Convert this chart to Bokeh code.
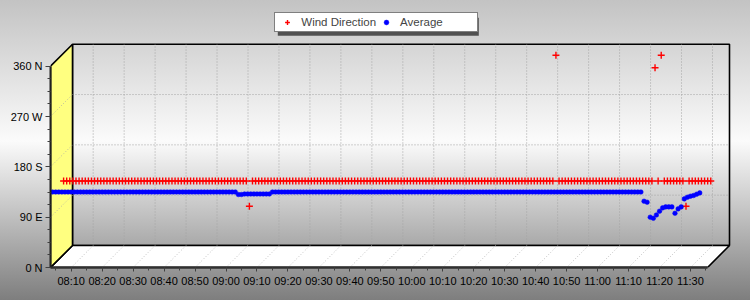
from bokeh.plotting import figure
from bokeh.models import (Range1d, LinearAxis, FixedTicker, Legend, LegendItem,
                          BoxAnnotation)
from bokeh.embed import file_html
from bokeh.resources import INLINE

# ---------------- data ----------------
start_minute = 8 * 60 + 4          # first reading 08:04, one reading per minute
wind_direction = ([135] * 60 + [90] + [135] * 98 + [360] + [135] * 31 +
                  [337.5] + [135] + [360] + [135] * 7 + [90] + [135] * 8)
average = ([135] * 60 + [130.5] * 2 + [131.5] * 9 + [135] * 120 +
           [118.6, 116.8, 90, 88, 94, 100.7, 106.6, 108.4, 108.4, 108.4,
            97, 104.8, 108.4, 122.7, 125.7, 127.5, 128.7, 131.1, 133.4])
minutes = [start_minute + i for i in range(len(average))]

x_tick_values = [490, 500, 510, 520, 530, 540, 550, 560, 570, 580, 590,
                 600, 610, 620, 630, 640, 650, 660, 670, 680, 690]
x_tick_labels = ["08:10", "08:20", "08:30", "08:40", "08:50", "09:00", "09:10",
                 "09:20", "09:30", "09:40", "09:50", "10:00", "10:10", "10:20",
                 "10:30", "10:40", "10:50", "11:00", "11:10", "11:20", "11:30"]
x_minor_values = [485, 495, 505, 515, 525, 535, 545, 555, 565, 575, 585, 595,
                  605, 615, 625, 635, 645, 655, 665, 675, 685, 695]
y_tick_values = [0, 90, 180, 270, 360]
y_tick_labels = ["0 N", "90 E", "180 S", "270 W", "360 N"]
y_minor_values = [22.5, 45, 67.5, 112.5, 135, 157.5, 202.5, 225, 247.5,
                  292.5, 315, 337.5]

# ---------------- layout constants ----------------
PX_PER_MIN = 3.0965
PX_PER_DEG = 201.3 / 360
FRAME_W, FRAME_H = 700, 267
X0 = 484 - 2.1 / PX_PER_MIN              # front-left edge of the box
X1 = X0 + FRAME_W / PX_PER_MIN
XR = X0 + 657 / PX_PER_MIN               # front-right edge of the box
Y1 = FRAME_H / PX_PER_DEG
DEPTH = 22
DT = DEPTH / PX_PER_MIN
DV = DEPTH / PX_PER_DEG

p = figure(width=750, height=300, output_backend="svg", toolbar_location=None,
           x_range=Range1d(X0, X1), y_range=Range1d(0, Y1),
           x_axis_type=None, y_axis_type=None, title=None,
           min_border_left=50, min_border_right=0, min_border_top=0,
           min_border_bottom=300 - FRAME_H)
p.outline_line_color = None
p.background_fill_alpha = 0
p.border_fill_alpha = 0
p.styles = {"background": "linear-gradient(180deg, #c3c3c3 0%, #fbfbfb 47%, #7e7e7e 100%)"}

p.extra_x_ranges = {"mid": Range1d(X0 - DT / 2, X1 - DT / 2),
                    "back": Range1d(X0 - DT, X1 - DT)}
p.extra_y_ranges = {"mid": Range1d(-DV / 2, Y1 - DV / 2),
                    "back": Range1d(-DV, Y1 - DV)}

grid_col = "#a4a4a4"
# back wall
p.quad(left=X0, right=XR, bottom=0, top=360, x_range_name="back", y_range_name="back",
       fill_color=None, line_color="black", line_width=1.6)
p.multi_line(xs=[[t, t] for t in x_tick_values], ys=[[0, 360] for _ in x_tick_values],
             x_range_name="back", y_range_name="back",
             line_color=grid_col, line_dash="1 2", line_width=1)
p.multi_line(xs=[[X0, XR] for _ in (90, 180, 270)], ys=[[v, v] for v in (90, 180, 270)],
             x_range_name="back", y_range_name="back",
             line_color=grid_col, line_dash="1 2", line_width=1)
# floor
p.patch(x=[X0, XR, XR + DT, X0 + DT], y=[0, 0, DV, DV], fill_color="white",
        line_color="black", line_width=1.6)
p.multi_line(xs=[[t, t + DT] for t in x_tick_values], ys=[[0, DV] for _ in x_tick_values],
             line_color="#c0c0c0", line_dash="1 2", line_width=1)
# left wall
p.patch(x=[X0, X0, X0 + DT, X0 + DT], y=[0, 360, 360 + DV, DV], fill_color="#ffff80",
        line_color="black", line_width=1.6)
p.multi_line(xs=[[X0, X0 + DT] for _ in (90, 180, 270)],
             ys=[[v, v + DV] for v in (90, 180, 270)],
             line_color="#b8b8a0", line_dash="1 2", line_width=1)

# series
r_wind = p.scatter(minutes, wind_direction, marker="cross", size=7, line_color="#ff0000",
                   line_width=1.4, x_range_name="mid", y_range_name="mid")
r_avg = p.scatter(minutes, average, marker="circle", size=4.6, fill_color="#0000ff",
                  line_color="#0000ff", line_width=0.5)

# axes
font = "Liberation Sans"
yaxis = LinearAxis(ticker=FixedTicker(ticks=y_tick_values, minor_ticks=y_minor_values),
                   bounds=(0, 360),
                   major_label_overrides=dict(zip(y_tick_values, y_tick_labels)),
                   axis_line_color="#202020", axis_line_width=2,
                   major_tick_out=5, major_tick_in=0, minor_tick_out=3, minor_tick_in=0,
                   major_tick_line_color="#404040", minor_tick_line_color="#404040",
                   major_label_standoff=3, major_label_text_font=font,
                   major_label_text_font_size="11px", major_label_text_color="black")
p.add_layout(yaxis, "left")
xaxis = LinearAxis(ticker=FixedTicker(ticks=x_tick_values, minor_ticks=x_minor_values),
                   bounds=(X0, XR),
                   major_label_overrides=dict(zip(x_tick_values, x_tick_labels)),
                   axis_line_color="#303030", axis_line_width=2.5,
                   major_tick_out=4, major_tick_in=0, minor_tick_out=3, minor_tick_in=0,
                   major_tick_line_color="#404040", minor_tick_line_color="#404040",
                   major_label_standoff=3, major_label_text_font=font,
                   major_label_text_font_size="11px", major_label_text_color="black")
p.add_layout(xaxis, "below")

# legend with shadow
LX, LY, LW, LH = 224.3, 234.7, 201, 18
shadow = BoxAnnotation(left=LX + 3, right=LX + LW + 3, bottom=LY - 3, top=LY + LH - 3,
                       left_units="screen", right_units="screen",
                       bottom_units="screen", top_units="screen",
                       fill_color="#505050", fill_alpha=1, line_color=None)
p.add_layout(shadow)
legend = Legend(items=[LegendItem(label="Wind Direction", renderers=[r_wind]),
                       LegendItem(label="Average", renderers=[r_avg])],
                orientation="horizontal", location=(LX, LY), margin=0,
                padding=3, spacing=1, glyph_width=18, glyph_height=12,
                label_standoff=5, label_width=74, label_height=12,
                label_text_font=font, label_text_font_size="11.5px",
                border_line_color="black", border_line_width=1,
                background_fill_color="white", background_fill_alpha=1)
p.add_layout(legend)

open("out.html", "w").write(file_html(p, INLINE))
